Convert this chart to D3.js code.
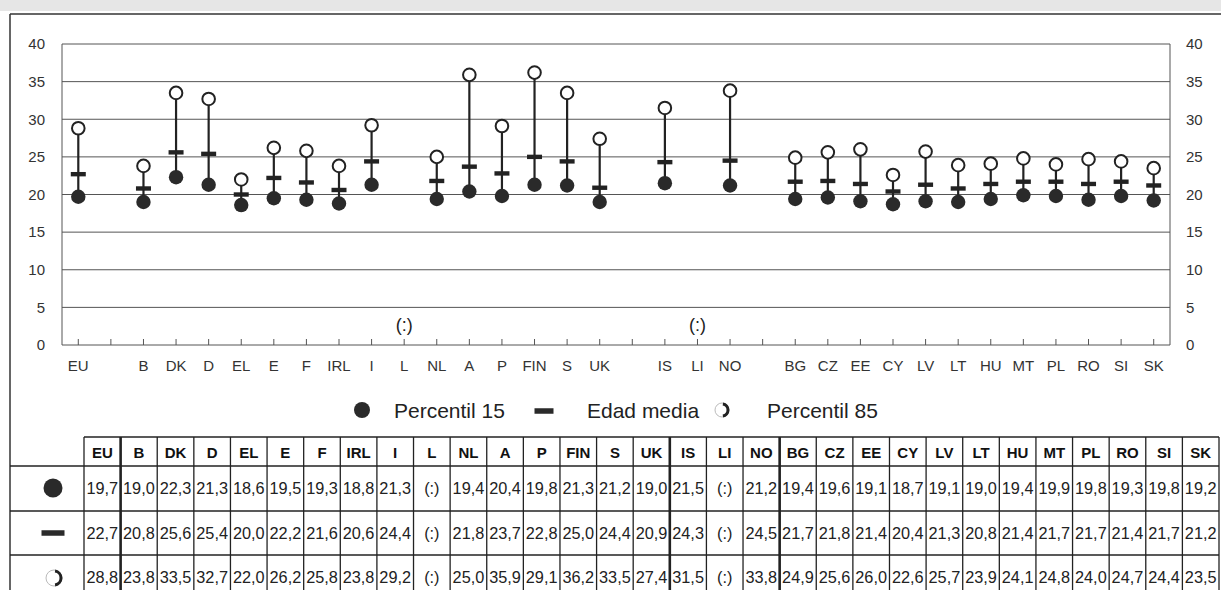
<!DOCTYPE html>
<html><head><meta charset="utf-8">
<script src="https://cdn.jsdelivr.net/npm/d3@7"></script>
<style>
html,body{margin:0;padding:0;background:#fff;}
svg{display:block;font-family:"Liberation Sans",Arial,sans-serif;}
</style></head>
<body>
<svg id="chart" width="1221" height="590"></svg>
<script>
const categories = ["EU","B","DK","D","EL","E","F","IRL","I","L","NL","A","P","FIN","S","UK","IS","LI","NO","BG","CZ","EE","CY","LV","LT","HU","MT","PL","RO","SI","SK"];
const p15  = [19.7,19.0,22.3,21.3,18.6,19.5,19.3,18.8,21.3,null,19.4,20.4,19.8,21.3,21.2,19.0,21.5,null,21.2,19.4,19.6,19.1,18.7,19.1,19.0,19.4,19.9,19.8,19.3,19.8,19.2];
const mean = [22.7,20.8,25.6,25.4,20.0,22.2,21.6,20.6,24.4,null,21.8,23.7,22.8,25.0,24.4,20.9,24.3,null,24.5,21.7,21.8,21.4,20.4,21.3,20.8,21.4,21.7,21.7,21.4,21.7,21.2];
const p85  = [28.8,23.8,33.5,32.7,22.0,26.2,25.8,23.8,29.2,null,25.0,35.9,29.1,36.2,33.5,27.4,31.5,null,33.8,24.9,25.6,26.0,22.6,25.7,23.9,24.1,24.8,24.0,24.7,24.4,23.5];
const gapsAfter = ["EU","UK","NO"];
const yTicks = [0,5,10,15,20,25,30,35,40];
const legendLabels = ["Percentil 15","Edad media","Percentil 85"];
const missingLabel = "(:)";

const svg = d3.select("#chart");
const ink = "#222";

// top strip & frame
svg.append("rect").attr("x",0).attr("y",0).attr("width",1221).attr("height",11).attr("fill","#e6e6e6");
svg.append("line").attr("x1",10).attr("x2",1221).attr("y1",14).attr("y2",14).attr("stroke","#333").attr("stroke-width",1.5);
svg.append("line").attr("x1",10).attr("x2",10).attr("y1",14).attr("y2",590).attr("stroke","#333").attr("stroke-width",1.5);

// slot domain with gaps
const slots = [];
categories.forEach(c => { slots.push(c); if (gapsAfter.includes(c)) slots.push("gap_" + c); });

const x = d3.scaleBand().domain(slots).range([62,1170]).padding(0);
const cx = k => x(k) + x.bandwidth()/2;
const y = d3.scaleLinear().domain([0,40]).range([345,44]);

// grid
svg.append("g").selectAll("line").data(yTicks).join("line")
  .attr("x1",62).attr("x2",1170).attr("y1",d=>y(d)).attr("y2",d=>y(d))
  .attr("stroke","#555").attr("stroke-width",1);
svg.append("line").attr("x1",62).attr("x2",62).attr("y1",y(40)).attr("y2",y(0)).attr("stroke","#555");
svg.append("line").attr("x1",1170).attr("x2",1170).attr("y1",y(40)).attr("y2",y(0)).attr("stroke","#555");

// y axes
const yl = svg.append("g").attr("transform","translate(62,0)")
  .call(d3.axisLeft(y).tickValues(yTicks).tickSize(0).tickPadding(17));
const yr = svg.append("g").attr("transform","translate(1170,0)")
  .call(d3.axisRight(y).tickValues(yTicks).tickSize(0).tickPadding(16));
[yl,yr].forEach(g=>{ g.select(".domain").remove(); g.selectAll("text").attr("font-size",15).attr("fill","#333").attr("font-family","Liberation Sans, Arial, sans-serif"); });

// x axis
const xa = svg.append("g").attr("transform","translate(0,345)")
  .call(d3.axisTop(x).tickSize(6).tickFormat(()=>""));
xa.select(".domain").remove();
xa.selectAll("line").attr("stroke","#555");
svg.append("g").selectAll("text").data(categories).join("text")
  .attr("x",d=>cx(d)).attr("y",371).attr("text-anchor","middle")
  .attr("font-size",15).attr("fill","#333").text(d=>d);

// marks
const data = categories.map((c,i)=>({c, lo:p15[i], m:mean[i], hi:p85[i]}));
const valid = data.filter(d=>d.lo!==null);
const missing = data.filter(d=>d.lo===null);
const g = svg.append("g");
g.selectAll(".stem").data(valid).join("line")
  .attr("x1",d=>cx(d.c)).attr("x2",d=>cx(d.c)).attr("y1",d=>y(d.lo)).attr("y2",d=>y(d.hi)+6)
  .attr("stroke",ink).attr("stroke-width",2.2);
g.selectAll(".mean").data(valid).join("rect")
  .attr("x",d=>cx(d.c)-7.5).attr("y",d=>y(d.m)-2.2).attr("width",15).attr("height",4.4).attr("fill",ink);
g.selectAll(".lo").data(valid).join("circle")
  .attr("cx",d=>cx(d.c)).attr("cy",d=>y(d.lo)).attr("r",7.2).attr("fill","#2a2a2a");
g.selectAll(".hi").data(valid).join("circle")
  .attr("cx",d=>cx(d.c)).attr("cy",d=>y(d.hi)).attr("r",6.3).attr("fill","#fff").attr("stroke",ink).attr("stroke-width",2);
g.selectAll(".miss").data(missing).join("text")
  .attr("x",d=>cx(d.c)).attr("y",331).attr("text-anchor","middle").attr("font-size",18).attr("fill","#222").text(missingLabel);

// icons
function iconP15(sel, px, py, r){ sel.append("circle").attr("cx",px).attr("cy",py).attr("r",r).attr("fill","#2a2a2a"); }
function iconMean(sel, px, py, w, h){ sel.append("rect").attr("x",px-w/2).attr("y",py-h/2).attr("width",w).attr("height",h).attr("fill","#2a2a2a"); }
function iconP85(sel, px, py, r){
  sel.append("circle").attr("cx",px).attr("cy",py).attr("r",r).attr("fill","#fff").attr("stroke","#bbb").attr("stroke-width",1);
  const arc = d3.arc().innerRadius(r-2.5).outerRadius(r+0.5).startAngle(0.15).endAngle(Math.PI-0.15);
  sel.append("path").attr("d",arc()).attr("transform",`translate(${px},${py})`).attr("fill","#222");
}

// legend
const lg = svg.append("g");
iconP15(lg, 362, 410, 8);
lg.append("text").attr("x",394).attr("y",418).attr("font-size",21).attr("fill","#222").text(legendLabels[0]);
iconMean(lg, 544, 411, 19, 5.5);
lg.append("text").attr("x",587).attr("y",418).attr("font-size",21).attr("fill","#222").text(legendLabels[1]);
iconP85(lg, 722, 410, 7);
lg.append("text").attr("x",767).attr("y",418).attr("font-size",21).attr("fill","#222").text(legendLabels[2]);

// table
const tx0 = 84, tx1 = 1219;
const cw = (tx1 - tx0)/categories.length;
const rowsY = [437, 466, 511, 555, 600];
const fmt = v => v===null ? missingLabel : d3.format(".1f")(v).replace(".",",");
const tg = svg.append("g");
tg.append("line").attr("x1",tx0).attr("x2",tx1).attr("y1",rowsY[0]).attr("y2",rowsY[0]).attr("stroke","#222").attr("stroke-width",1.5);
[1,2,3].forEach(i=>tg.append("line").attr("x1",10).attr("x2",tx1).attr("y1",rowsY[i]).attr("y2",rowsY[i]).attr("stroke","#222").attr("stroke-width",1.5));
d3.range(categories.length+1).forEach(i=>{
  const c = categories[i-1];
  const thick = gapsAfter.includes(c);
  tg.append("line").attr("x1",tx0+i*cw).attr("x2",tx0+i*cw).attr("y1",rowsY[0]).attr("y2",590)
    .attr("stroke","#222").attr("stroke-width",thick?2.6:1.3);
});
tg.selectAll(".hdr").data(categories).join("text")
  .attr("x",(d,i)=>tx0+(i+0.5)*cw).attr("y",458).attr("text-anchor","middle")
  .attr("font-size",15).attr("font-weight","bold").attr("fill","#111").text(d=>d);
const series = [p15, mean, p85];
series.forEach((arr,ri)=>{
  tg.selectAll(".r"+ri).data(arr).join("text")
    .attr("x",(d,i)=>tx0+(i+0.5)*cw).attr("y",[494,539,583][ri]).attr("text-anchor","middle")
    .attr("font-size",16.3).attr("fill","#222").text(d=>fmt(d));
});
iconP15(tg, 53, 488, 9.5);
iconMean(tg, 53, 533, 23, 5.5);
iconP85(tg, 54, 578, 8);
</script>
</body></html>
